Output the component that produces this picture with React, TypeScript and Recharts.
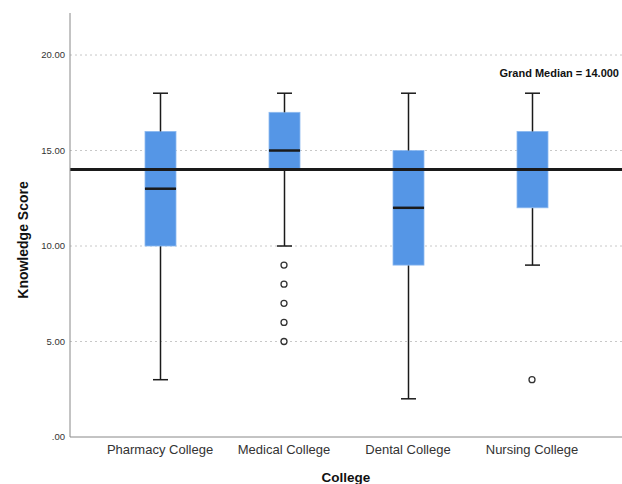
import { ComposedChart, Bar, Scatter, XAxis, YAxis, CartesianGrid, ReferenceLine } from "recharts";

const colleges = ["Pharmacy College", "Medical College", "Dental College", "Nursing College"];
const mins = [3, 10, 2, 9];
const q1s = [10, 14, 9, 12];
const medians = [13, 15, 12, 14];
const q3s = [16, 17, 15, 16];
const maxs = [18, 18, 18, 18];
const outliers = [[], [9, 8, 7, 6, 5], [], [3]];
const grandMedian = 14;
const yTicks = [0, 5, 10, 15, 20];

const BOX = "#5596e6";
const INK = "#1a1a1a";

const data = colleges.map((name, i) => {
  const row: Record<string, any> = {
    name,
    base: mins[i],
    lowWhisk: q1s[i] - mins[i],
    lowBox: medians[i] - q1s[i],
    highBox: q3s[i] - medians[i],
    highWhisk: maxs[i] - q3s[i],
  };
  for (let k = 0; k < 5; k++) row["out" + k] = outliers[i][k] ?? null;
  return row;
});

function Whisker({ x, y, width, height, cap }: any) {
  const cx = x + width / 2;
  const cy = cap === "top" ? y : y + height;
  return (
    <g>
      <line x1={cx} x2={cx} y1={y} y2={y + height} stroke={INK} strokeWidth={1.5} />
      <line x1={cx - 7.5} x2={cx + 7.5} y1={cy} y2={cy} stroke={INK} strokeWidth={1.5} />
    </g>
  );
}

function BoxPart({ x, y, width, height, median }: any) {
  return (
    <g>
      <rect x={x} y={y} width={width} height={height} fill={BOX} stroke="#8dbaf0" strokeWidth={0.8} />
      {median && <line x1={x} x2={x + width} y1={y + height} y2={y + height} stroke={INK} strokeWidth={2.5} />}
    </g>
  );
}

function Outlier({ cx, cy }: any) {
  if (!Number.isFinite(cx) || !Number.isFinite(cy)) return null;
  return <circle cx={cx} cy={cy} r={3} fill="#fff" stroke="#333" strokeWidth={1.3} />;
}

export default function App() {
  return (
    <div style={{ position: "absolute", left: 0, top: 0, background: "#fff", fontFamily: "'Liberation Sans', Arial, sans-serif" }}>
      <ComposedChart width={622} height={484} data={data} margin={{ top: 13, right: 0, bottom: 0, left: 0 }}>
        <CartesianGrid vertical={false} horizontalValues={yTicks.slice(1)} stroke="#c8c8c8" strokeDasharray="2 3" />
        <XAxis dataKey="name" height={47} tickLine={false} axisLine={{ stroke: "#888" }}
          padding={{ left: 28, right: 28 }} tick={{ fontSize: 13, fill: "#333" }}
          label={(p: any) => {
            const vb = p.viewBox;
            return <text x={vb.x + vb.width / 2} y={482} textAnchor="middle" fontSize={13.5} fontWeight="bold" fill="#111">College</text>;
          }} />
        <YAxis width={70} domain={[0, 22.2]} ticks={yTicks} tickSize={3} tickLine={false} axisLine={{ stroke: "#888" }}
          tick={{ fontSize: 9.5, fill: "#333" }} tickFormatter={(v: number) => (v === 0 ? ".00" : v.toFixed(2))}
          label={(p: any) => {
            const vb = p.viewBox;
            const cy = vb.y + vb.height / 2 + 15;
            return <text x={28} y={cy} transform={`rotate(-90, 28, ${cy})`} textAnchor="middle" fontSize={14} fontWeight="bold" fill="#111">Knowledge Score</text>;
          }} />
        <Bar dataKey="base" stackId="box" barSize={31} fill="none" isAnimationActive={false} />
        <Bar dataKey="lowWhisk" stackId="box" barSize={31} isAnimationActive={false} shape={(p: any) => <Whisker {...p} cap="bottom" />} />
        <Bar dataKey="lowBox" stackId="box" barSize={31} isAnimationActive={false} shape={(p: any) => <BoxPart {...p} />} />
        <Bar dataKey="highBox" stackId="box" barSize={31} isAnimationActive={false} shape={(p: any) => <BoxPart {...p} median />} />
        <Bar dataKey="highWhisk" stackId="box" barSize={31} isAnimationActive={false} shape={(p: any) => <Whisker {...p} cap="top" />} />
        {[0, 1, 2, 3, 4].map((k) => (
          <Scatter key={k} dataKey={"out" + k} isAnimationActive={false} shape={(p: any) => <Outlier {...p} />} />
        ))}
        <ReferenceLine y={grandMedian} stroke={INK} strokeWidth={3}
          label={() => <text x={619} y={77} textAnchor="end" fontSize={11} fontWeight="bold" fill="#111">{`Grand Median = ${grandMedian.toFixed(3)}`}</text>} />
      </ComposedChart>
    </div>
  );
}
